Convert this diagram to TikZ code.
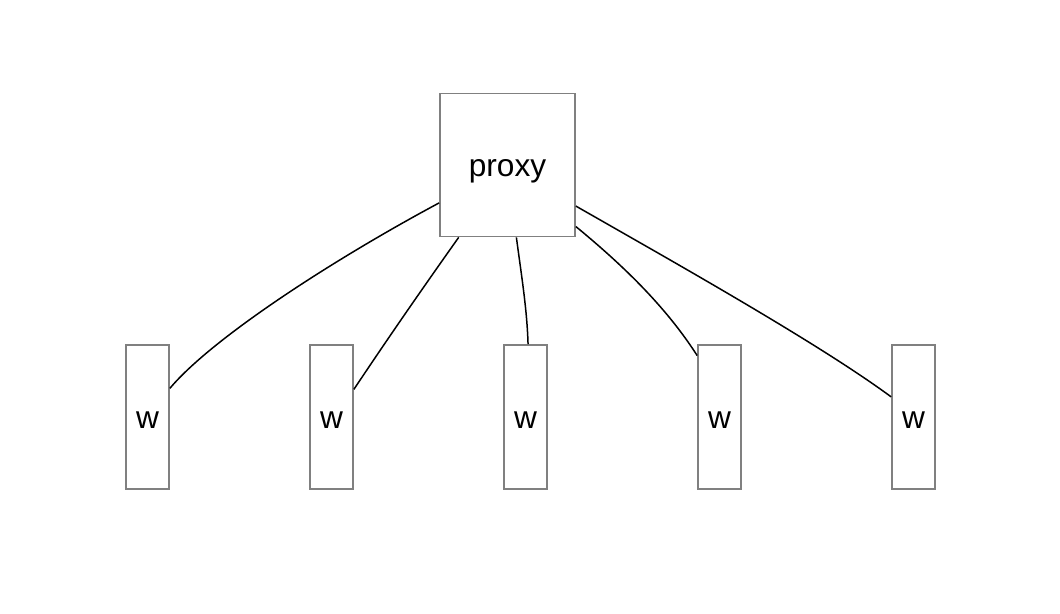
\documentclass[tikz,border=0pt]{standalone}
\usepackage{fontspec}
\setmainfont{Liberation Sans}
\tikzset{
    proxybox/.style={draw=black!50, line width=1pt, minimum width=2.7cm, minimum height=2.86cm, text height=12.8pt, text depth=0pt, font=\fontsize{18}{20}\selectfont},
    workerbox/.style={draw=black!50, line width=1pt, minimum width=0.86cm, minimum height=2.88cm, text height=12.8pt, text depth=0pt, font=\fontsize{18}{20}\selectfont},
    link/.style={line width=0.85pt}
}

\begin{document}
\begin{tikzpicture}[x=0.02cm, y=-0.02cm]
            \useasboundingbox (0,0) rectangle (1060,614);
            \node[proxybox] (proxy) at (507.5,165) {proxy};
            \node[workerbox] (w1) at (147.5,417) {w};
            \node[workerbox] (w2) at (331.5,417) {w};
            \node[workerbox] (w3) at (525.5,417) {w};
            \node[workerbox] (w4) at (719.5,417) {w};
            \node[workerbox] (w5) at (913.5,417) {w};
            \draw[link] (proxy.209) .. controls +(-110,59) and +(41,-49) .. (w1.52);
            \draw[link] (proxy.236) .. controls +(-39,55) and +(32,-48) .. (w2.51);
            \draw[link] (proxy.277.5) .. controls +(5,38) and +(-1,-35) .. (w3.88);
            \draw[link] (proxy.318.4) .. controls +(45,37) and +(-32,-50) .. (w4.110);
            \draw[link] (proxy.329.3) .. controls +(105,60) and +(-72,-53) .. (w5.138.5);
        \end{tikzpicture}
\end{document}
